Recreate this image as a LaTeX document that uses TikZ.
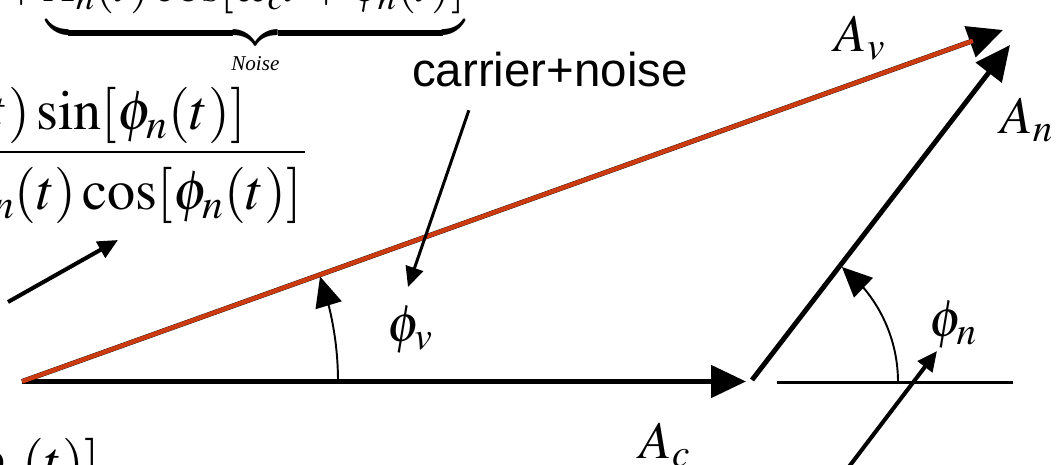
\documentclass[tikz,border=0pt]{standalone}
\usepackage{mathptmx}
\usepackage[no-math]{fontspec}
\setmainfont{Liberation Serif}
\newfontfamily\arialfont{Liberation Sans}
\usetikzlibrary{positioning,arrows.meta,calc,bending}
\definecolor{phasorred}{HTML}{CC3A10}
\tikzset{
  phasor/.style ={line width=2.8pt, -{Triangle[length=7mm,width=6.4mm]}},
  redvec/.style ={line width=2.5pt, phasorred, shorten >=6.4mm, yshift=0.6pt},
  refline/.style={line width=1.7pt},
  angarc/.style ={line width=1.1pt, -{Triangle[length=6mm,width=5.4mm]}},
  pointer/.style={line width=2.3pt, -{Triangle[length=4mm,width=3.6mm]}},
  thinptr/.style={pointer, line width=1.7pt},
  fracbar/.style={line width=1.6pt},
  lbl/.style    ={font=\fontsize{30}{32}\selectfont, inner sep=0pt},
  eq/.style     ={font=\fontsize{32}{38}\selectfont, inner sep=0pt},
  topeq/.style  ={font=\fontsize{28}{34}\selectfont, inner sep=0pt},
  note/.style   ={font=\arialfont\fontsize{27}{30}\selectfont, inner sep=0pt},
}

\begin{document}
\begin{tikzpicture}
  \useasboundingbox (0,0) rectangle (21.26,9.3);
  \clip (0,0) rectangle (21.26,9.3);
  % equations, cut by the slide edge
  \node[topeq, anchor=south west] (noise) at (0.04,7.78)
    {$+\underbrace{\rule[-13pt]{0pt}{1pt}A_n(t)\cos[\omega_c t+\phi_n(t)]}_{\mbox{\fontsize{12}{14}\selectfont\itshape Noise}}$};
  \node[eq, anchor=base east] (num) at (4.92,6.7) {$A_n(t)\sin[\phi_n(t)]$};
  \node[eq, anchor=base east] (den) at (6.04,5.1) {$A_c+A_n(t)\cos[\phi_n(t)]$};
  \coordinate (barl) at (-0.5,6.26);
  \coordinate (barr) at (6.1,6.26);
  \draw[fracbar] (barl) -- (barr);
  \node[eq, anchor=base east] (phase) at (2.0,-0.32) {$\cos[\omega_c t+\phi_v(t)]$};
  % phasors
  \coordinate (O) at (0.44,1.67);
  \coordinate (ctip) at (14.92,1.67);
  \coordinate (nbase) at (15.04,1.7);
  \coordinate (ntip) at (20.2,8.4);
  \coordinate (vtip) at (20.06,8.7);
  \coordinate (refl) at (15.54,1.64);
  \coordinate (refr) at (20.26,1.64);
  \draw[refline] (refl) -- (refr);
  \draw[phasor] (O) -- (ctip);
  \draw[phasor] (nbase) -- (ntip);
  \draw[phasor] (O) -- (vtip);
  \draw[redvec] (O) -- (vtip);
  \draw[angarc] ($(O)+(6.32,0)$) arc[start angle=0, end angle=19.4, radius=6.32];
  \draw[angarc] ($(nbase)+(2.92,-0.04)$) arc[start angle=0, end angle=52, radius=2.92];
  \node[lbl] (Av) at (17.2,8.54) {$A_v$};
  \node[lbl] (An) at (20.54,6.9) {$A_n$};
  \node[lbl] (Ac) at (13.3,0.4) {$A_c$};
  \node[lbl] (phiv) at (8.2,2.7) {$\phi_v$};
  \node[lbl] (phin) at (19.06,2.8) {$\phi_n$};
  % slide annotations
  \node[note] (cn) at (11.0,7.9) {carrier+noise};
  \coordinate (cnfoot) at ($(cn.south west)+(1.14,-0.45)$);
  \coordinate (cnpoint) at (8.16,3.56);
  \draw[thinptr] (cnfoot) -- (cnpoint);
  \coordinate (eqtail) at (0.16,3.26);
  \coordinate (eqhead) at (2.36,4.5);
  \draw[pointer] (eqtail) -- (eqhead);
  \coordinate (phntail) at (16.9,-0.14);
  \coordinate (phnhead) at (18.74,2.28);
  \draw[pointer] (phntail) -- (phnhead);
\end{tikzpicture}
\end{document}
